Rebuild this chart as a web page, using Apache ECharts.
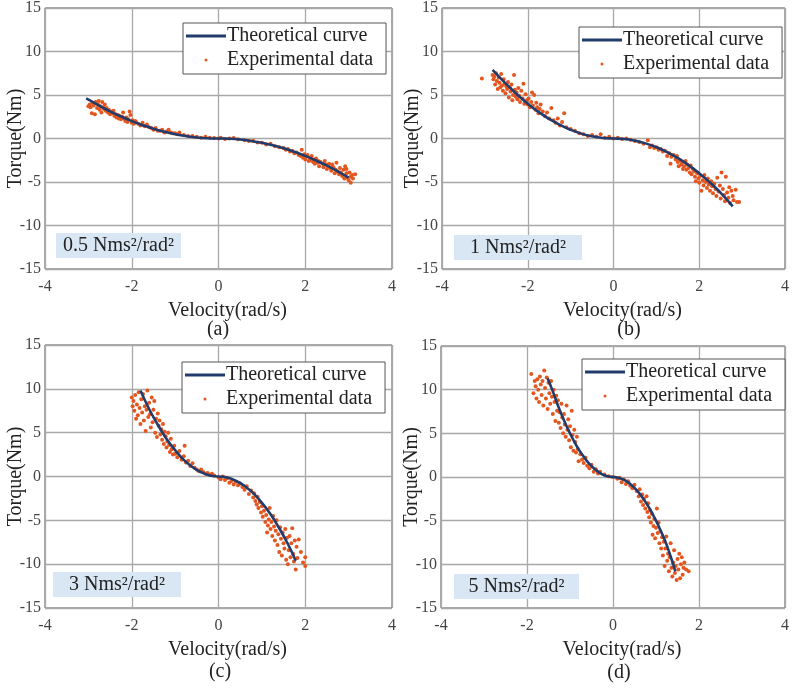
<!DOCTYPE html>
<html>
<head>
<meta charset="utf-8">
<script src="https://cdn.jsdelivr.net/npm/echarts@6/dist/echarts.min.js"></script>
<style>
  html, body { margin: 0; padding: 0; background: #fff; }
  #main { width: 792px; height: 688px; }
</style>
</head>
<body>
<div id="main"></div>
<script>
var font = 'Liberation Serif';

// damping coefficient labels and subplot letters
var coefLabels = ['0.5 Nms\u00b2/rad\u00b2', '1 Nms\u00b2/rad\u00b2', '3 Nms\u00b2/rad\u00b2', '5 Nms\u00b2/rad\u00b2'];
var panelLetters = ['(a)', '(b)', '(c)', '(d)'];

// theoretical curves (velocity, torque)
var curveA_x = [-3.05, -2.75, -2.5, -2.25, -2, -1.75, -1.5, -1.25, -1, -0.75, -0.5, -0.25, 0, 0.25, 0.5, 0.75, 1, 1.25, 1.5, 1.75, 2, 2.25, 2.5, 2.75, 3.0];
var curveA_y = [4.6, 3.78, 3.12, 2.53, 2.0, 1.53, 1.12, 0.78, 0.5, 0.28, 0.12, 0.03, 0, -0.03, -0.12, -0.28, -0.5, -0.78, -1.12, -1.53, -2.0, -2.53, -3.12, -3.78, -4.5];
var curveB_x = [-2.82, -2.5, -2.25, -2, -1.75, -1.5, -1.25, -1, -0.75, -0.5, -0.25, 0, 0.25, 0.5, 0.75, 1, 1.25, 1.5, 1.75, 2, 2.25, 2.5, 2.78];
var curveB_y = [7.9, 6.25, 5.06, 4.0, 3.06, 2.25, 1.56, 1.0, 0.56, 0.25, 0.06, 0, -0.06, -0.25, -0.56, -1.0, -1.56, -2.25, -3.06, -4.0, -5.06, -6.25, -7.8];
var curveC_x = [-1.8, -1.6, -1.4, -1.2, -1.0, -0.8, -0.6, -0.4, -0.2, 0, 0.2, 0.4, 0.6, 0.8, 1.0, 1.2, 1.4, 1.6, 1.78];
var curveC_y = [9.8, 7.7, 5.9, 4.3, 3.0, 1.9, 1.08, 0.48, 0.12, 0, -0.12, -0.48, -1.08, -1.9, -3.0, -4.3, -5.9, -7.7, -9.6];
var curveD_x = [-1.52, -1.4, -1.25, -1.1, -1.0, -0.85, -0.7, -0.55, -0.4, -0.25, -0.1, 0, 0.1, 0.25, 0.4, 0.55, 0.7, 0.85, 1.0, 1.1, 1.25, 1.45];
var curveD_y = [11.3, 9.8, 7.8, 6.05, 5.0, 3.6, 2.45, 1.5, 0.8, 0.31, 0.05, 0, -0.05, -0.31, -0.8, -1.5, -2.45, -3.6, -5.0, -6.05, -7.8, -10.8];

// experimental samples [velocity, torque]
var expA = [
  [-3.0,3.7],[-2.97,3.9],[-2.95,3.6],[-2.92,2.9],[-2.9,4.1],[-2.88,3.8],[-2.85,2.8],[-2.83,4.2],[-2.8,3.5],[-2.78,3.9],
  [-2.76,4.3],[-2.74,3.3],[-2.72,3.7],[-2.7,3.0],[-2.68,4.2],[-2.66,3.6],[-2.64,3.4],[-2.62,3.9],[-2.6,3.2],[-2.58,3.5],
  [-2.55,3.0],[-2.53,3.3],[-2.5,2.8],[-2.48,3.1],[-2.45,2.9],[-2.42,3.2],[-2.4,2.6],[-2.37,2.8],[-2.35,2.4],[-2.32,2.7],
  [-2.3,2.3],[-2.28,2.6],[-2.25,2.2],[-2.22,2.5],[-2.2,3.0],[-2.18,2.3],[-2.15,2.0],[-2.12,2.4],[-2.1,1.9],[-2.08,2.2],
  [-2.05,3.1],[-2.03,2.7],[-2.0,1.8],[-1.98,2.1],[-1.95,1.7],[-1.92,2.0],[-1.9,1.9],[-1.85,1.7],[-1.8,1.5],[-1.75,1.8],
  [-1.7,1.4],[-1.65,1.6],[-1.6,1.3],[-1.55,1.2],[-1.5,1.0],[-1.45,1.2],[-1.4,0.9],[-1.35,0.9],[-1.3,1.0],[-1.25,0.7],
  [-1.2,0.8],[-1.15,1.0],[-1.1,0.7],[-1.05,0.6],[-1.0,0.6],[-0.95,0.5],[-0.9,0.7],[-0.8,0.4],[-0.7,0.3],[-0.6,0.3],
  [-0.5,0.2],[-0.4,0.1],[-0.3,0.2],[-0.2,0.1],[-0.1,0.05],[0.0,0.0],[0.05,0.1],[0.15,-0.05],[0.25,0.0],[0.35,0.05],
  [0.45,-0.1],[0.6,-0.2],[0.7,-0.3],[0.8,-0.25],[0.9,-0.45],[1.0,-0.5],[1.1,-0.7],[1.2,-0.6],[1.3,-0.9],[1.4,-1.0],
  [1.5,-1.1],[1.55,-1.3],[1.6,-1.2],[1.65,-1.5],[1.7,-1.4],[1.75,-1.7],[1.8,-1.6],[1.85,-1.9],[1.9,-2.0],[1.92,-1.3],
  [1.95,-2.2],[1.98,-1.8],[2.0,-2.4],[2.02,-2.0],[2.05,-1.9],[2.08,-2.6],[2.1,-2.2],[2.12,-2.5],[2.15,-2.0],[2.18,-2.7],
  [2.2,-2.4],[2.22,-2.9],[2.25,-2.3],[2.28,-2.8],[2.3,-2.6],[2.32,-3.2],[2.35,-2.7],[2.4,-2.9],[2.42,-3.3],[2.45,-2.6],
  [2.48,-3.0],[2.5,-3.5],[2.53,-3.1],[2.55,-2.9],[2.58,-3.4],[2.6,-3.7],[2.62,-3.0],[2.65,-3.3],[2.68,-4.0],[2.7,-3.6],
  [2.72,-2.8],[2.75,-3.8],[2.78,-4.1],[2.8,-3.4],[2.82,-3.9],[2.85,-4.3],[2.88,-3.6],[2.9,-4.6],[2.92,-3.2],[2.95,-4.0],
  [2.97,-4.5],[3.0,-4.8],[3.02,-3.9],[3.05,-4.4],[3.08,-4.2],[3.1,-4.6],[3.15,-4.1],[3.05,-5.1],[2.95,-3.5]
];
var expB = [
  [-3.07,6.9],[-2.82,7.3],[-2.8,6.8],[-2.78,7.1],[-2.76,6.2],[-2.74,7.5],[-2.72,6.6],[-2.7,5.7],[-2.68,7.0],[-2.66,6.4],
  [-2.64,5.9],[-2.62,7.4],[-2.6,6.1],[-2.58,5.5],[-2.56,6.8],[-2.54,6.3],[-2.52,5.2],[-2.5,6.0],[-2.48,5.7],[-2.46,6.5],
  [-2.44,4.7],[-2.42,5.9],[-2.4,5.4],[-2.38,6.2],[-2.36,4.4],[-2.34,5.0],[-2.32,7.3],[-2.3,5.6],[-2.28,4.8],[-2.26,5.3],
  [-2.24,4.5],[-2.22,5.8],[-2.2,4.9],[-2.18,4.2],[-2.15,5.5],[-2.12,4.6],[-2.1,6.3],[-2.08,4.0],[-2.05,5.1],[-2.02,4.4],
  [-2.0,3.9],[-1.98,4.6],[-1.95,3.6],[-1.92,4.2],[-1.9,5.3],[-1.88,3.8],[-1.85,5.0],[-1.82,3.3],[-1.8,4.1],[-1.78,3.6],
  [-1.75,2.9],[-1.72,3.4],[-1.7,3.9],[-1.65,3.1],[-1.6,2.6],[-1.55,3.0],[-1.5,2.3],[-1.45,3.5],[-1.4,2.1],[-1.35,1.8],
  [-1.3,2.3],[-1.25,1.5],[-1.2,1.9],[-1.15,2.9],[-1.1,1.3],[-1.0,1.1],[-0.9,0.9],[-0.8,0.6],[-0.7,0.5],[-0.6,0.3],
  [-0.5,0.4],[-0.4,0.2],[-0.3,0.5],[-0.2,0.1],[-0.1,0.2],[0.0,0.0],[0.1,0.1],[0.2,-0.05],[0.3,0.0],[0.4,-0.15],
  [0.5,-0.3],[0.6,-0.4],[0.7,-0.6],[0.8,-0.2],[0.85,-1.0],[0.9,-0.8],[0.95,-1.1],[1.0,-1.0],[1.05,-1.3],[1.1,-1.2],
  [1.15,-1.5],[1.2,-1.4],[1.25,-2.0],[1.3,-1.7],[1.33,-2.9],[1.35,-2.1],[1.4,-1.9],[1.45,-2.4],[1.48,-2.0],[1.5,-2.7],
  [1.52,-3.2],[1.55,-2.5],[1.58,-3.0],[1.6,-2.8],[1.62,-3.5],[1.65,-3.2],[1.68,-2.6],[1.7,-3.6],[1.72,-3.0],[1.75,-3.4],
  [1.78,-3.9],[1.8,-3.1],[1.82,-4.1],[1.85,-3.5],[1.88,-3.8],[1.9,-4.4],[1.92,-4.9],[1.95,-4.0],[1.98,-4.6],[2.0,-5.1],
  [2.02,-4.3],[2.05,-6.0],[2.08,-4.8],[2.1,-5.4],[2.12,-4.2],[2.15,-5.0],[2.18,-5.7],[2.2,-4.6],[2.22,-5.3],[2.25,-6.0],
  [2.28,-4.9],[2.3,-5.5],[2.32,-6.3],[2.35,-5.2],[2.38,-5.8],[2.4,-6.6],[2.42,-4.5],[2.45,-6.1],[2.48,-5.4],[2.5,-6.9],
  [2.52,-3.9],[2.55,-5.8],[2.58,-6.5],[2.6,-7.2],[2.62,-4.4],[2.65,-6.2],[2.68,-6.8],[2.7,-5.6],[2.72,-7.4],[2.75,-6.0],
  [2.78,-6.6],[2.8,-7.1],[2.85,-5.9],[2.88,-7.3],[2.93,-7.3]
];
var expC = [
  [-2.0,9.0],[-1.98,8.0],[-1.96,8.6],[-1.94,7.5],[-1.92,9.3],[-1.9,6.6],[-1.88,8.2],[-1.86,7.0],[-1.84,9.6],[-1.82,7.8],
  [-1.8,6.0],[-1.78,8.8],[-1.76,7.3],[-1.74,9.4],[-1.72,6.4],[-1.7,8.0],[-1.68,5.2],[-1.66,7.6],[-1.64,9.8],[-1.62,6.8],
  [-1.6,8.4],[-1.58,7.1],[-1.56,5.6],[-1.54,9.0],[-1.52,6.2],[-1.5,7.6],[-1.48,8.6],[-1.46,5.0],[-1.44,6.6],[-1.42,4.5],
  [-1.4,7.2],[-1.38,5.8],[-1.36,6.4],[-1.34,4.8],[-1.32,5.4],[-1.3,4.2],[-1.28,6.0],[-1.26,3.7],[-1.24,5.1],[-1.22,4.6],
  [-1.2,3.3],[-1.18,4.0],[-1.16,5.0],[-1.14,3.6],[-1.12,2.8],[-1.1,4.3],[-1.08,3.1],[-1.05,2.5],[-1.02,3.5],[-1.0,2.6],
  [-0.95,2.2],[-0.9,2.9],[-0.85,1.9],[-0.8,2.3],[-0.78,3.5],[-0.75,1.6],[-0.7,1.8],[-0.65,1.2],[-0.6,1.5],[-0.55,1.0],
  [-0.5,0.8],[-0.45,0.6],[-0.4,0.8],[-0.35,0.5],[-0.3,0.3],[-0.25,0.4],[-0.2,0.2],[-0.15,0.3],[-0.1,0.1],[0.0,-0.1],
  [0.05,-0.3],[0.1,0.0],[0.15,-0.4],[0.2,-0.2],[0.25,-0.7],[0.3,-0.5],[0.35,-0.9],[0.4,-0.6],[0.45,-1.0],[0.5,-0.8],
  [0.55,-1.2],[0.6,-1.5],[0.65,-1.1],[0.7,-2.0],[0.75,-1.6],[0.8,-2.4],[0.82,-1.9],[0.85,-2.8],[0.88,-3.2],[0.9,-2.3],
  [0.92,-3.6],[0.95,-2.9],[0.98,-4.1],[1.0,-3.4],[1.02,-4.6],[1.05,-3.9],[1.08,-5.2],[1.1,-4.4],[1.12,-6.4],[1.14,-5.6],
  [1.16,-4.9],[1.18,-3.6],[1.2,-6.0],[1.22,-5.2],[1.24,-6.8],[1.26,-4.5],[1.28,-5.7],[1.3,-7.3],[1.32,-6.2],[1.34,-5.0],
  [1.36,-7.8],[1.38,-6.6],[1.4,-8.6],[1.42,-5.8],[1.44,-7.1],[1.46,-9.0],[1.48,-6.4],[1.5,-7.6],[1.52,-8.2],[1.54,-6.0],
  [1.56,-9.5],[1.58,-7.0],[1.6,-10.0],[1.62,-8.4],[1.64,-6.8],[1.66,-9.2],[1.68,-7.6],[1.7,-5.9],[1.72,-8.8],[1.74,-9.7],
  [1.76,-7.3],[1.78,-10.6],[1.8,-8.0],[1.82,-9.3],[1.85,-7.2],[1.9,-8.6],[1.95,-9.8],[2.0,-10.2],[2.0,-9.2]
];
var expD = [
  [-1.9,11.8],[-1.85,9.6],[-1.82,11.0],[-1.8,10.4],[-1.78,9.0],[-1.76,11.2],[-1.74,10.0],[-1.72,8.6],[-1.7,11.5],[-1.68,10.6],
  [-1.66,9.4],[-1.64,11.0],[-1.62,8.2],[-1.6,12.2],[-1.58,10.2],[-1.56,9.0],[-1.54,11.4],[-1.52,7.8],[-1.5,10.8],[-1.48,9.6],
  [-1.46,8.4],[-1.44,11.0],[-1.42,9.2],[-1.4,7.2],[-1.38,10.0],[-1.36,8.6],[-1.34,6.4],[-1.32,9.3],[-1.3,7.6],[-1.28,8.8],
  [-1.26,6.2],[-1.24,7.4],[-1.22,5.6],[-1.2,8.4],[-1.18,6.8],[-1.16,5.0],[-1.14,7.2],[-1.12,6.0],[-1.1,4.6],[-1.08,8.2],
  [-1.06,5.4],[-1.04,6.6],[-1.02,4.2],[-1.0,5.8],[-0.98,3.4],[-0.96,7.6],[-0.94,4.8],[-0.92,3.0],[-0.9,5.4],[-0.88,4.0],
  [-0.86,2.8],[-0.84,4.6],[-0.82,3.2],[-0.8,1.8],[-0.76,2.6],[-0.72,2.0],[-0.68,1.6],[-0.64,2.2],[-0.6,1.3],[-0.55,1.0],
  [-0.5,1.4],[-0.45,0.6],[-0.4,0.9],[-0.35,0.4],[-0.3,0.6],[-0.2,0.3],[-0.1,0.1],[0.0,0.0],[0.1,-0.2],[0.15,-0.1],
  [0.2,-0.6],[0.25,-0.3],[0.3,-0.8],[0.35,-0.5],[0.4,-1.0],[0.45,-1.3],[0.5,-0.9],[0.55,-1.6],[0.6,-2.2],[0.62,-1.4],
  [0.65,-2.8],[0.68,-2.0],[0.7,-3.2],[0.72,-2.5],[0.75,-3.6],[0.78,-2.2],[0.8,-4.0],[0.82,-3.0],[0.84,-4.6],[0.86,-3.8],
  [0.88,-5.2],[0.9,-4.2],[0.92,-6.6],[0.94,-5.6],[0.96,-4.8],[0.98,-7.0],[1.0,-5.8],[1.02,-3.6],[1.04,-6.4],[1.06,-5.2],
  [1.08,-7.6],[1.1,-6.2],[1.12,-8.2],[1.14,-6.9],[1.16,-9.0],[1.18,-7.4],[1.2,-10.2],[1.22,-8.2],[1.24,-6.8],[1.26,-9.6],
  [1.28,-8.8],[1.3,-10.8],[1.32,-9.2],[1.34,-7.6],[1.36,-10.4],[1.38,-11.4],[1.4,-9.8],[1.42,-8.4],[1.44,-11.0],[1.46,-10.2],
  [1.48,-11.8],[1.5,-9.4],[1.52,-10.6],[1.54,-8.8],[1.56,-11.6],[1.58,-10.0],[1.6,-9.2],[1.62,-11.2],[1.64,-10.4],[1.66,-9.8],
  [1.7,-10.6],[1.76,-10.8]
];

var curvesX = [curveA_x, curveB_x, curveC_x, curveD_x];
var curvesY = [curveA_y, curveB_y, curveC_y, curveD_y];
var exps = [expA, expB, expC, expD];

// layout of the four panels (px)
var grids = [
  { left: 45, top: 5, width: 347, height: 264 },
  { left: 442, top: 6, width: 346, height: 263 },
  { left: 45, top: 345, width: 347, height: 263 },
  { left: 441, top: 346, width: 347, height: 262 }
];
var legendPos = [[183, 23], [579, 27], [182, 362], [582, 359]];
var boxPos = [[56, 233, 125], [454, 235, 128], [53, 572, 128], [454, 574, 125]];
var letterPos = [[218, 330], [629, 330], [220, 672], [619, 673]];

var curveColor = '#213c6c';
var dotColor = '#e4561f';

var myChart = echarts.init(document.getElementById('main'), null, { renderer: 'canvas' });

var xAxes = [], yAxes = [], series = [], legends = [], graphics = [];
for (var i = 0; i < 4; i++) {
  xAxes.push({
    gridIndex: i, type: 'value', min: -4, max: 4, interval: 2,
    name: 'Velocity(rad/s)', nameLocation: 'middle', nameGap: 32, nameMoveOverlap: false,
    nameTextStyle: { fontFamily: font, fontSize: 20, color: '#222', padding: [0, 0, 0, 18] },
    axisLine: { show: false }, axisTick: { show: false },
    axisLabel: { fontFamily: font, fontSize: 16, color: '#444', margin: 10 },
    splitLine: { lineStyle: { color: '#a8a8a8', width: 1.3 } }
  });
  yAxes.push({
    gridIndex: i, type: 'value', min: -15, max: 15, interval: 5,
    name: 'Torque(Nm)', nameLocation: 'middle', nameGap: 19, nameMoveOverlap: false,
    nameTextStyle: { fontFamily: font, fontSize: 20, color: '#222' },
    axisLine: { show: false }, axisTick: { show: false },
    axisLabel: { fontFamily: font, fontSize: 16, color: '#444', margin: 4 },
    splitLine: { lineStyle: { color: '#a8a8a8', width: 1.3 } }
  });
  var pts = [];
  for (var k = 0; k < curvesX[i].length; k++) pts.push([curvesX[i][k], curvesY[i][k]]);
  series.push({
    name: 'Theoretical curve', type: 'line', xAxisIndex: i, yAxisIndex: i,
    data: pts, smooth: true, showSymbol: false, silent: true,
    lineStyle: { color: curveColor, width: 2.6 }, itemStyle: { color: curveColor }
  });
  series.push({
    name: 'Experimental data', type: 'scatter', xAxisIndex: i, yAxisIndex: i,
    data: exps[i], symbolSize: 4, silent: true,
    itemStyle: { color: dotColor, opacity: 1 }
  });
  legends.push({
    left: legendPos[i][0], top: legendPos[i][1], orient: 'vertical',
    data: [{ name: 'Theoretical curve', icon: 'rect' }, { name: 'Experimental data', icon: 'circle' }],
    itemWidth: 40, itemHeight: 3, itemGap: 4,
    padding: [3, 13, 4, 3],
    backgroundColor: '#fff', borderColor: '#555', borderWidth: 1,
    selectedMode: false,
    textStyle: { fontFamily: font, fontSize: 20, color: '#222', padding: [0, 0, 0, -4] }
  });
  graphics.push({
    type: 'rect', left: boxPos[i][0], top: boxPos[i][1], z: 10,
    shape: { width: boxPos[i][2], height: 25 },
    style: { fill: '#d9e7f4' }
  });
  graphics.push({
    type: 'text', z: 11,
    x: boxPos[i][0] + boxPos[i][2] / 2, y: boxPos[i][1] + 13,
    style: { text: coefLabels[i], font: '20px "' + font + '"', fill: '#222', align: 'center', verticalAlign: 'middle' }
  });
  graphics.push({
    type: 'text', z: 11,
    x: letterPos[i][0], y: letterPos[i][1],
    style: { text: panelLetters[i], font: '20px "' + font + '"', fill: '#222', align: 'center', verticalAlign: 'middle' }
  });
}

var option = {
  backgroundColor: '#fff',
  animation: false,
  grid: grids.map(function (g) {
    return { left: g.left, top: g.top, width: g.width, height: g.height, show: true, borderColor: '#555', borderWidth: 1, backgroundColor: 'transparent' };
  }),
  xAxis: xAxes,
  yAxis: yAxes,
  legend: legends,
  graphic: graphics,
  series: series
};
myChart.setOption(option);
</script>
</body>
</html>
